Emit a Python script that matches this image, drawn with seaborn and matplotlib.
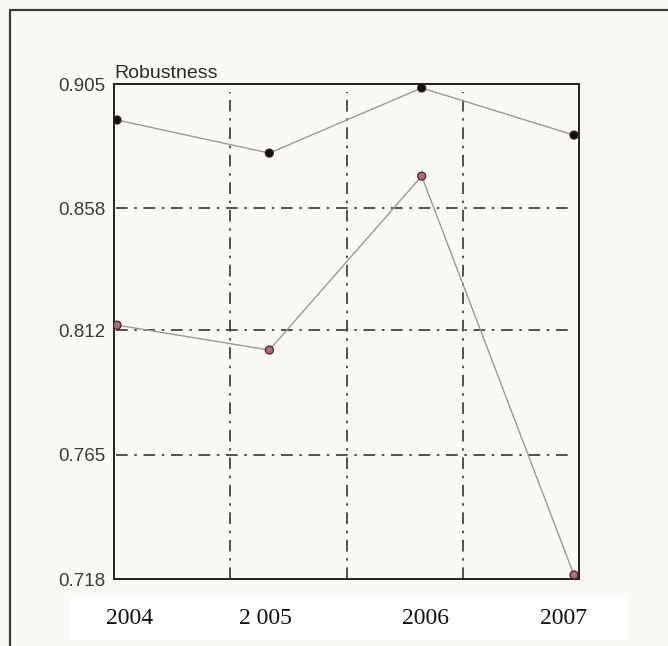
import numpy as np
import pandas as pd
import seaborn as sb
import matplotlib.pyplot as plt
from matplotlib.patches import Rectangle

# valeurs
years = [2004, 2005, 2006, 2007]
year_labels = ["2004", "2 005", "2006", "2007"]
series_top = [0.8914, 0.8789, 0.9035, 0.8857]
series_bottom = [0.8139, 0.8045, 0.8702, 0.7195]
y_ticks = [0.718, 0.765, 0.812, 0.858, 0.905]
y_label = "Robustness"

df = pd.DataFrame({
    "year": years * 2,
    "value": series_top + series_bottom,
    "serie": ["top"] * len(years) + ["bottom"] * len(years),
})

sb.set_style("white")
plt.rcParams["font.family"] = ["Liberation Sans", "DejaVu Sans"]

bg = "#fbf9f5"
fig = plt.figure(figsize=(6.68, 6.46), dpi=100, facecolor=bg)

# cadre extérieur
fig.patches.append(Rectangle((10 / 668, -0.2), 1.2, 1.2 - 10 / 646,
                             transform=fig.transFigure, fill=False,
                             edgecolor="#3a3a3a", linewidth=1.6, zorder=0))

ax = fig.add_axes([114 / 668, 67 / 646, 465 / 668, 495 / 646])
ax.set_facecolor(bg)

# lignes grises + points
for name, grp in df.groupby("serie"):
    sb.lineplot(data=grp, x="year", y="value", ax=ax, color="#9a9a9a",
                linewidth=1.0, legend=False)
sb.scatterplot(data=df, x="year", y="value", hue="serie", ax=ax,
               palette={"top": "#111111", "bottom": "#b06a78"},
               edgecolor="#3a1a20", linewidth=0.8, s=34, legend=False, zorder=5)

x0 = years[0] - 3 / 152.33
x1 = years[-1] + 5 / 152.33
ax.set_xlim(x0, x1)
ax.set_ylim(y_ticks[0], y_ticks[-1])

grid_x = np.linspace(x0, x1, 5)[1:-1]
ax.set_xticks(grid_x)
ax.set_xticklabels([])
ax.set_yticks(y_ticks)
ax.set_yticklabels([f"{v:.3f}" for v in y_ticks], fontsize=13.5, color="#3a3a3a")
ax.tick_params(length=0, pad=6)
ax.set_xlabel("")
ax.set_ylabel("")

dash = (0, (7, 4, 1.5, 4))
for gx in grid_x:
    ax.axvline(gx, ymin=0, ymax=0.984, color="#333333", linewidth=1.2,
               linestyle=dash, zorder=1)
for gy in y_ticks[1:-1]:
    ax.axhline(gy, xmin=0.005, xmax=0.985, color="#333333", linewidth=1.2,
               linestyle=dash, zorder=1)

for s in ax.spines.values():
    s.set_visible(True)
    s.set_color("#222222")
    s.set_linewidth(1.4)

ax.text(0.0, 1.004, y_label, transform=ax.transAxes, fontsize=14,
        ha="left", va="bottom", color="#2a2a2a")

# boîte blanche des années
bx = fig.add_axes([70 / 668, 6 / 646, 558 / 668, 43 / 646])
bx.set_facecolor("white")
for s in bx.spines.values():
    s.set_visible(False)
px = 152.33
bx.set_xlim(years[0] - 47 / px, years[0] + 511 / px)
bx.set_ylim(0, 1)
bx.set_xticks([])
bx.set_yticks([])
nudge = [13, -4, 4, -10]
for yr, lab, n in zip(years, year_labels, nudge):
    bx.text(yr + n / px, 0.5, lab, ha="center", va="center", fontsize=17,
            family=["Liberation Serif", "DejaVu Serif"], color="#111111")

fig.savefig("out.png", dpi=100, facecolor=bg)
